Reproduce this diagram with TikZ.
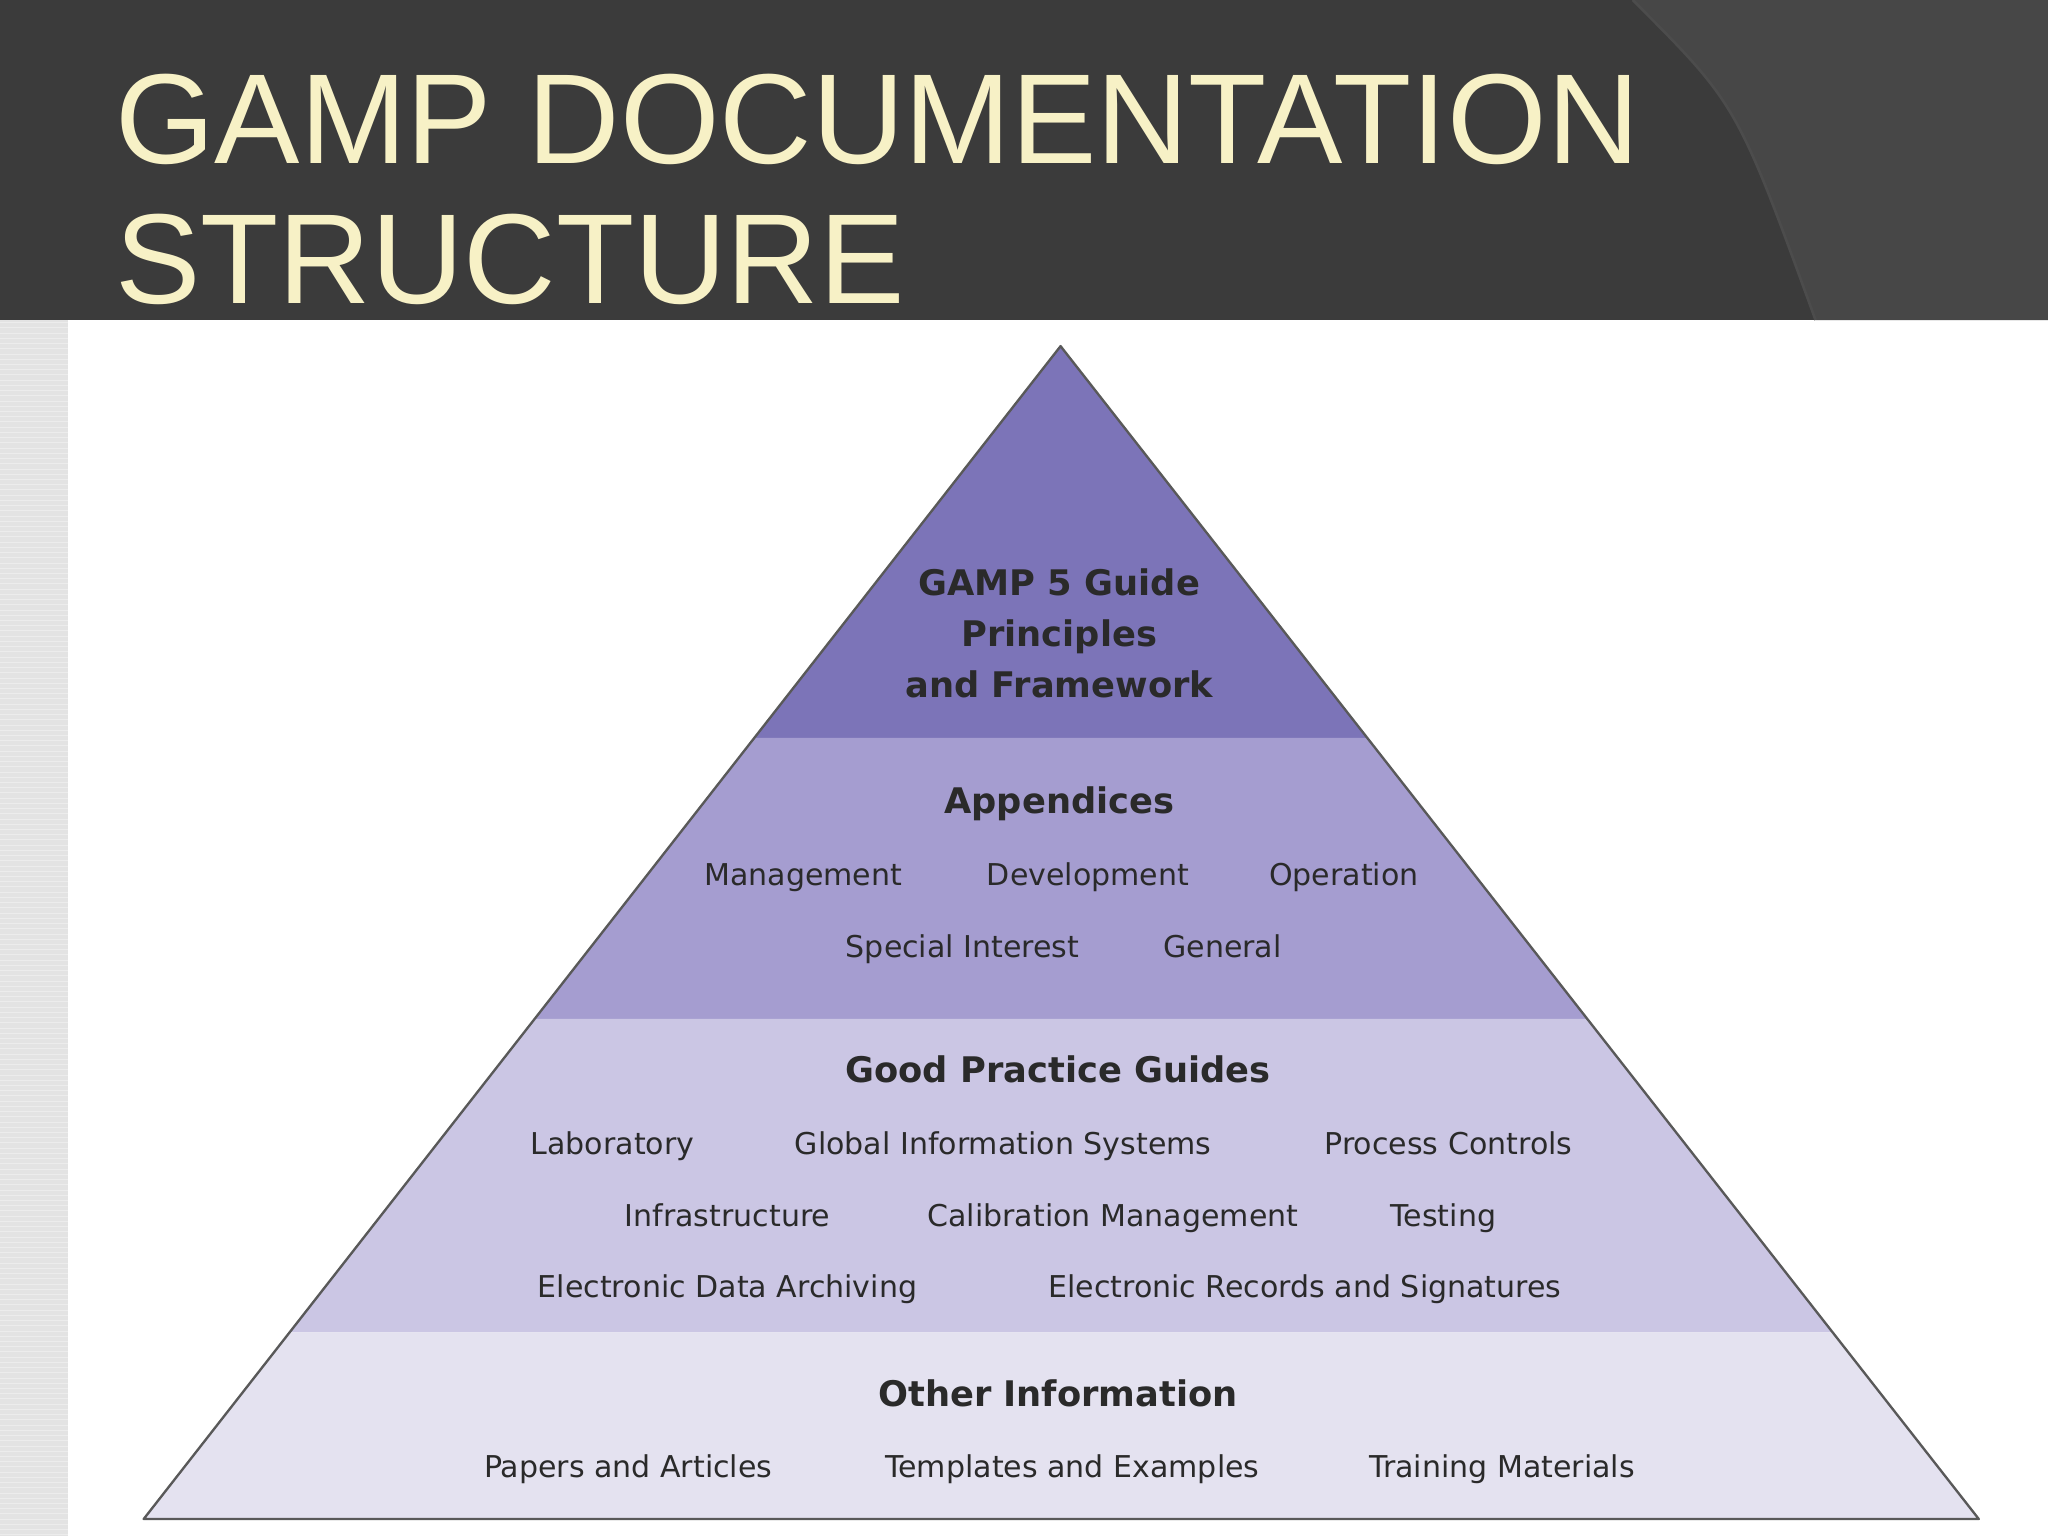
\documentclass[tikz,border=0pt]{standalone}
\usepackage{fontspec}
\setmainfont{Liberation Sans}
\newfontfamily\pyr{DejaVu Sans}
\definecolor{hdr}{HTML}{3B3B3B}
\definecolor{hdrb}{HTML}{474747}
\definecolor{cream}{HTML}{F7F1C6}
\definecolor{tA}{HTML}{7C74B8}
\definecolor{tB}{HTML}{A59DD0}
\definecolor{tC}{HTML}{CBC6E4}
\definecolor{tD}{HTML}{E4E2F0}
\definecolor{txt}{HTML}{2A2A2A}
\tikzset{
 hd/.style={font=\pyr\bfseries\fontsize{27}{32}\selectfont, text=txt, anchor=base},
 it/.style={font=\pyr\fontsize{23}{28}\selectfont, text=txt, anchor=base},
 title/.style={font=\fontsize{98}{106}\selectfont, text=cream, anchor=base west, inner sep=0pt}
}
\begin{document}
\begin{tikzpicture}[x=1pt,y=-1pt]
\useasboundingbox (0,0) rectangle (1568,1176);
\fill[white] (0,0) rectangle (1568,1176);
\fill[hdr] (0,0) rectangle (1568,245);
\fill[hdrb] (1250,0) .. controls (1330,80) .. (1390,245) -- (1568,245) -- (1568,0) -- cycle;
\draw[line width=2pt, black!70] (1250,0) .. controls (1330,80) .. (1390,245);
\fill[gray!22] (0,245) rectangle (52,1176);
\foreach \i in {0,...,232} \draw[white!85!gray, line width=0.6pt] (0,247+4*\i) -- (52,247+4*\i);
\node[title] (t1) at (88,125) {GAMP DOCUMENTATION};
\node[title] (t2) at (88,232) {STRUCTURE};
% pyramid tiers
\fill[tA] (812,265) -- (1047,565) -- (577,565) -- cycle;
\fill[tB] (577,565) -- (1047,565) -- (1215,780) -- (409,780) -- cycle;
\fill[tC] (409,780) -- (1215,780) -- (1403,1020) -- (221,1020) -- cycle;
\fill[tD] (221,1020) -- (1403,1020) -- (1515,1163) -- (110,1163) -- cycle;
\draw[line width=1.8pt, black!65, line join=round] (812,265) -- (1515,1163) -- (110,1163) -- cycle;
\node[hd] (g1) at (811,456) {GAMP 5 Guide};
\node[hd] (g2) at (811,495) {Principles};
\node[hd] (g3) at (811,534) {and Framework};
\node[hd] (ap) at (811,623) {Appendices};
\node[it] (a1) at (615,678) {Management};
\node[it] (a2) at (833,678) {Development};
\node[it] (a3) at (1029,678) {Operation};
\node[it] (a4) at (737,733) {Special Interest};
\node[it] (a5) at (936,733) {General};
\node[hd] (gp) at (810,829) {Good Practice Guides};
\node[it] (b1) at (469,884) {Laboratory};
\node[it] (b2) at (768,884) {Global Information Systems};
\node[it] (b3) at (1109,884) {Process Controls};
\node[it] (b4) at (557,939) {Infrastructure};
\node[it] (b5) at (852,939) {Calibration Management};
\node[it] (b6) at (1105,939) {Testing};
\node[it] (b7) at (557,993) {Electronic Data Archiving};
\node[it] (b8) at (999,993) {Electronic Records and Signatures};
\node[hd] (oi) at (810,1077) {Other Information};
\node[it] (c1) at (481,1131) {Papers and Articles};
\node[it] (c2) at (821,1131) {Templates and Examples};
\node[it] (c3) at (1150,1131) {Training Materials};
\end{tikzpicture}
\end{document}
